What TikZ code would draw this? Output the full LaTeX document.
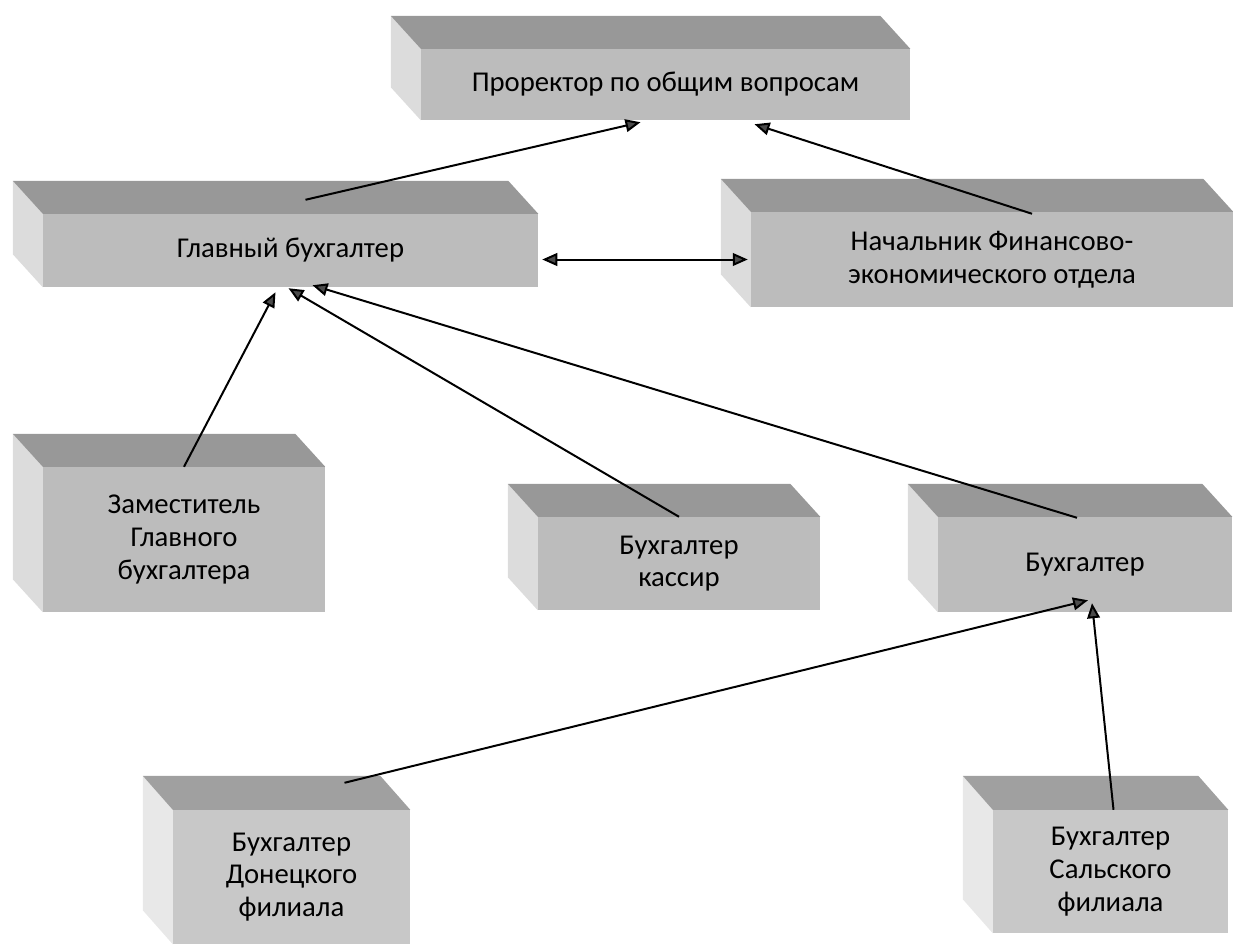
\documentclass[tikz,border=0pt]{standalone}
\usepackage{fontspec}
\setmainfont{Carlito}
\usepackage{xcolor}
\usepackage{tikz}
\usetikzlibrary{arrows.meta, positioning, calc}
\definecolor{frontgray}{RGB}{188, 188, 188}
\definecolor{topgray}{RGB}{152, 152, 152}
\definecolor{sidegray}{RGB}{220, 220, 220}
\definecolor{lowfront}{RGB}{200, 200, 200}
\definecolor{lowtop}{RGB}{160, 160, 160}
\definecolor{lowside}{RGB}{232, 232, 232}
\definecolor{headgray}{RGB}{75, 75, 75}
\tikzstyle{post} = [rectangle, fill=frontgray, align=center, inner sep=0pt, font=\fontsize{24.5}{28}\selectfont]
\tikzstyle{lowpost} = [post, fill=lowfront]
\tikzstyle{arrow} = [-{Triangle[length=0.45cm, width=0.38cm, fill=headgray]}, line width=1.7pt]
\tikzstyle{twoway} = [{Triangle[length=0.45cm, width=0.38cm, fill=headgray]}-{Triangle[length=0.45cm, width=0.38cm, fill=headgray]}, line width=1.7pt]

\begin{document}
\begin{tikzpicture}[x=0.03cm, y=-0.03cm]
    \useasboundingbox (0,0) rectangle (1233,944);

    % Boxes (front faces)
    \node[post, minimum width=14.67cm, minimum height=2.13cm] (pro) at (665.5, 84.5) {Проректор по общим вопросам};
    \node[post, minimum width=14.85cm, minimum height=2.19cm] (glav) at (290.5, 250.5) {Главный бухгалтер};
    \node[post, minimum width=14.46cm, minimum height=2.85cm] (nach) at (992, 259.5) {Начальник Финансово-\\экономического отдела};
    \node[post, minimum width=8.46cm, minimum height=4.35cm] (zam) at (184, 539.5) {Заместитель\\Главного\\бухгалтера};
    \node[post, minimum width=8.46cm, minimum height=2.79cm] (kas) at (679, 563.5) {Бухгалтер\\кассир};
    \node[post, minimum width=8.82cm, minimum height=2.85cm] (buh) at (1085, 564.5) {Бухгалтер};
    \node[lowpost, minimum width=7.11cm, minimum height=4.02cm] (don) at (291.5, 877) {Бухгалтер\\Донецкого\\филиала};
    \node[lowpost, minimum width=7.05cm, minimum height=3.69cm] (sal) at (1110.5, 871.5) {Бухгалтер\\Сальского\\филиала};

    % Top and side faces
    \foreach \n in {pro, glav, nach, zam, kas, buh} {
        \fill[sidegray] (\n.north west) -- ++(-30,-33) -- ($(\n.south west)+(-30,-33)$) -- (\n.south west) -- cycle;
        \fill[topgray] (\n.north west) -- ++(-30,-33) -- ($(\n.north east)+(-30,-33)$) -- (\n.north east) -- cycle;
    }
    \foreach \n in {don, sal} {
        \fill[lowside] (\n.north west) -- ++(-30,-34) -- ($(\n.south west)+(-30,-34)$) -- (\n.south west) -- cycle;
        \fill[lowtop] (\n.north west) -- ++(-30,-34) -- ($(\n.north east)+(-30,-34)$) -- (\n.north east) -- cycle;
    }

    % Links
    \draw[arrow] ($(glav.north)+(15,-14)$) -- ($(pro.south)+(-25,2)$);
    \draw[arrow] ($(nach.north)+(40,2)$) -- ($(pro.south)+(89,4)$);
    \draw[twoway] ($(glav.east)+(4,9)$) -- ($(nach.west)+(-3,0)$);
    \draw[arrow] (zam.north) -- ($(glav.south)+(-15,5)$);
    \draw[arrow] (kas.north) -- ($(glav.south)+(-2,1)$);
    \draw[arrow] ($(buh.north)+(-8,1)$) -- ($(glav.south)+(22,-2)$);
    \draw[arrow] ($(don.north)+(53,-27)$) -- ($(buh.south)+(3,-12)$);
    \draw[arrow] ($(sal.north)+(3,0)$) -- ($(buh.south)+(7,-9)$);
\end{tikzpicture}
\end{document}
